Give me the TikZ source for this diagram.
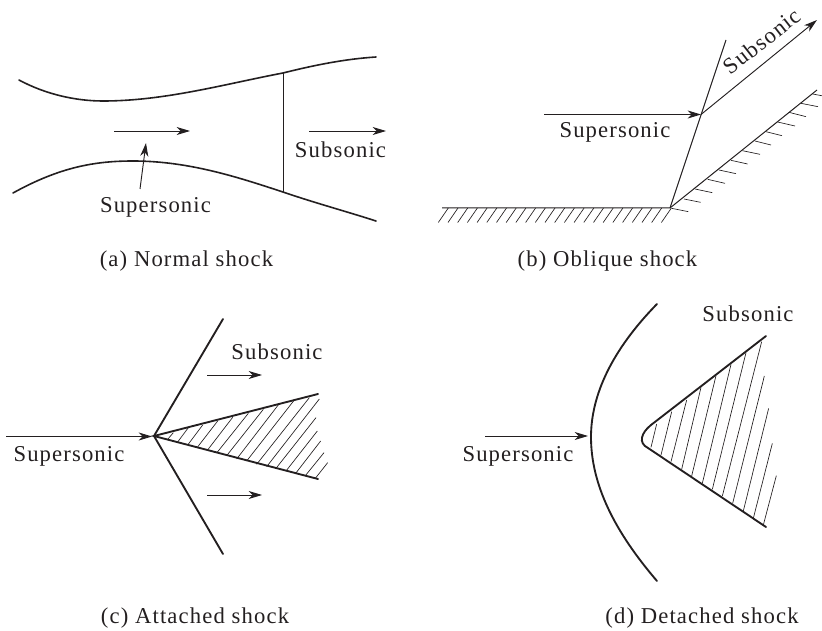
\documentclass[tikz,border=0pt]{standalone}
\usepackage{fontspec}
\setmainfont{Liberation Serif}[LetterSpace=5]
\usetikzlibrary{arrows.meta}
\definecolor{ink}{HTML}{231F20}
\tikzset{
 px/.style={x=0.75pt,y=-0.75pt},
 wall/.style={line width=1.4pt,color=ink,line cap=round},
 thin line/.style={line width=0.75pt,color=ink},
 hatch/.style={line width=0.5pt,color=ink},
 flow/.style={line width=0.7pt,color=ink,-{Stealth[length=10pt,width=6pt,inset=3pt]}},
 lbl/.style={font=\fontsize{17}{19}\selectfont,text=ink,inner sep=0pt,anchor=base},
 zoomed/.style={x=0.25pt,y=-0.25pt},
}
\begin{document}
\begin{tikzpicture}[px]
\useasboundingbox (0,0) rectangle (822,631);
% (a)
\draw[wall,line width=1.2pt] (19,80) .. controls (45,94) and (75,101) .. (103,101) .. controls (165,101) and (225,84) .. (283,73) .. controls (315,65) and (345,59) .. (376,57);
\draw[wall,line width=1.2pt] (13,193) .. controls (60,167) and (95,161) .. (133,161) .. controls (190,161) and (240,178) .. (283,192) .. controls (315,203) and (345,211) .. (376,221);
\coordinate (st) at (283,73); \coordinate (sb) at (283,192);
\draw[thin line] (st) -- (sb);
\coordinate (a1) at (114,131); \coordinate (a2) at (190,131);
\draw[flow] (a1) -- (a2);
\coordinate (a3) at (309,131); \coordinate (a4) at (386,131);
\draw[flow] (a3) -- (a4);
\node[lbl] (asub) at (340.5,158) {Subsonic};
\node[lbl] (asup) at (155.5,213) {Supersonic};
\coordinate (a5) at (140,189); \coordinate (a6) at (146,143);
\draw[flow] (a5) -- (a6);
\node[lbl] (acap) at (186.5,267) {(a) Normal shock};
% (b)
\coordinate (bc) at (670,208);
\coordinate (bt) at (726,40);
\coordinate (bs) at (701,114.5);
\draw[thin line] (bc) -- (bt);
\coordinate (b1) at (544,114.5);
\draw[flow] (b1) -- (bs);
\coordinate (b2) at (817,20);
\draw[flow] (bs) -- (b2);
\node[lbl] (bsup) at (615,138) {Supersonic};
\node[lbl,rotate=38,anchor=center] (bsub) at (762,41) {Subsonic};
\coordinate (be) at (817,90);
\coordinate (bw) at (442,208);
\draw[thin line] (bw) -- (bc) -- (be);
\foreach \i in {0,...,23} \draw[hatch] ({448.3+\i*9.7},208) -- ++(-10,14.5);
\begin{scope}[shift={(660,80)},zoomed]
\foreach \a/\b/\c/\d in {35/385/85/395,72/357/122/367,105/327/157/338,143/298/195/310,177/270/228/281,213/241/263/252,247/212/300/223,285/183/333/195,318/155/366/167,353/126/405/138,387/97/438/110,423/70/474/80,458/42/490/48}
  \draw[hatch] (\a,\b) -- (\c,\d);
\end{scope}
\node[lbl] (bcap) at (607.5,267) {(b) Oblique shock};
% (c)
\coordinate (ct) at (154,436);
\coordinate (c0) at (6,436.5);
\coordinate (c1) at (152,436.5);
\draw[flow] (c0) -- (c1);
\coordinate (cu) at (223,319); \coordinate (cl) at (223,554);
\coordinate (wu) at (318,394); \coordinate (wl) at (318,479);
\draw[wall] (cu) -- (ct) -- (cl);
\draw[wall] (wu) -- (ct) -- (wl);
\begin{scope}[shift={(150,385)},zoomed]
\foreach \a/\b/\c/\d in {53/163/70/143,83/171/115/128,113/180/158/120,142/187/203/108,172/196/248/97,200/204/295/85,230/212/340/73,260/222/387/57,290/228/433/45,320/238/478/38,350/245/508/42,378/250/498/98,408/258/502/138,437/265/512/168,466/272/522/203,496/280/533/233}
  \draw[hatch] (\a,\b) -- (\c,\d);
\end{scope}
\coordinate (c2) at (207,375); \coordinate (c3) at (262,375);
\coordinate (c4) at (207,495); \coordinate (c5) at (262,495);
\draw[flow] (c2) -- (c3);
\draw[flow] (c4) -- (c5);
\node[lbl] (csub) at (277,359) {Subsonic};
\node[lbl] (csup) at (69,461) {Supersonic};
\node[lbl] (ccap) at (195,623) {(c) Attached shock};
% (d)
\draw[wall] (657,304) .. controls (612,350) and (591,395) .. (591,437) .. controls (591,485) and (615,532) .. (657,581);
\coordinate (d0) at (485,436); \coordinate (d1) at (588,436);
\draw[flow] (d0) -- (d1);
\draw[wall] (766,336) -- (651,425) .. controls (641,433) and (638,443) .. (648,448) -- (766,527);
\begin{scope}[shift={(635,330)},zoomed]
\foreach \a/\b/\c/\d in {48/352/65/282,78/375/110/245,108/395/155/210,140/418/198/172,170/438/243/137,202/460/288/103,232/478/333/68,262/498/380/35,293/520/388/138,325/543/401/235,355/565/412/340,385/585/424/437}
  \draw[hatch] (\a,\b) -- (\c,\d);
\end{scope}
\node[lbl] (dsub) at (748,321) {Subsonic};
\node[lbl] (dsup) at (518,461) {Supersonic};
\node[lbl] (dcap) at (702,623) {(d) Detached shock};
\end{tikzpicture}
\end{document}
